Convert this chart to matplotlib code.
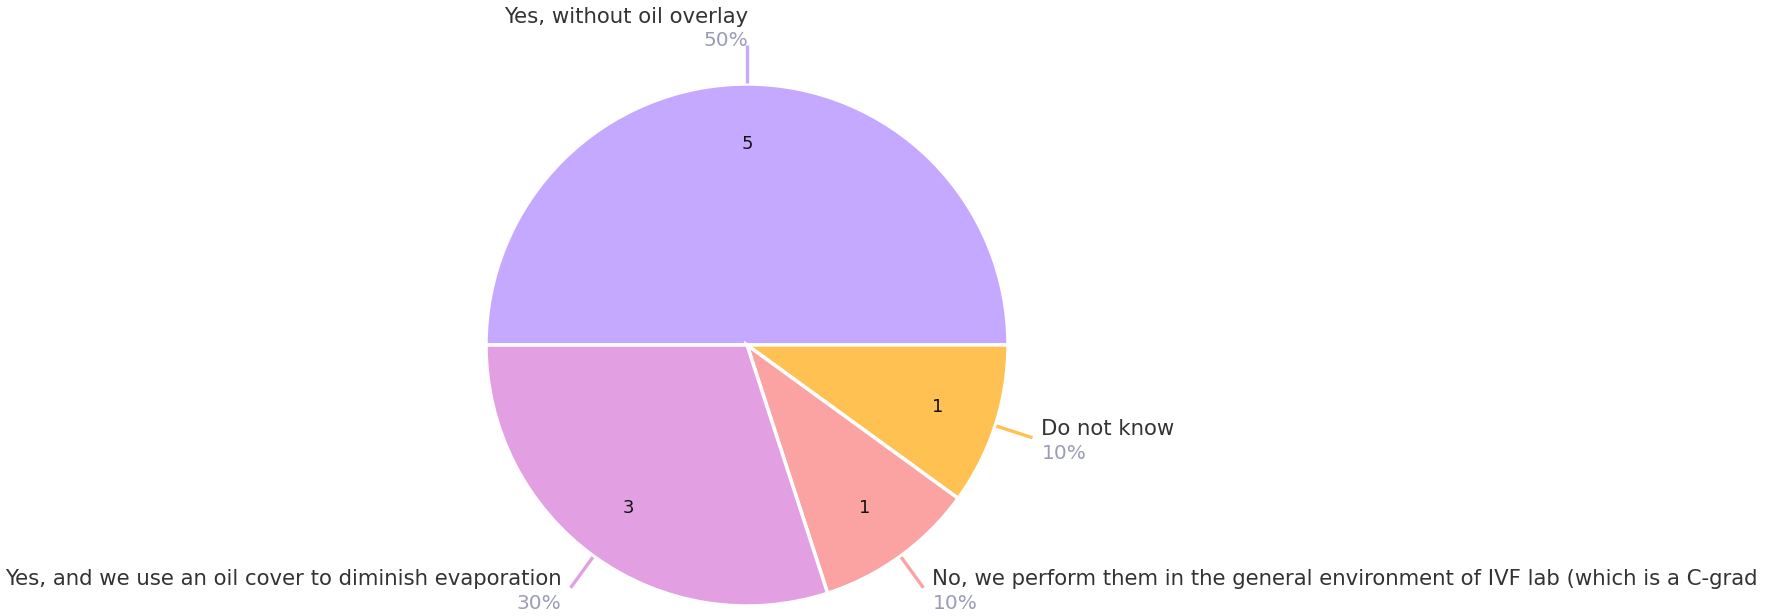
import numpy as np
import matplotlib
matplotlib.use("Agg")
import matplotlib.pyplot as plt

categories = ["Yes, without oil overlay", "Do not know",
              "No, we perform them in the general environment of IVF lab (which is a C-grad",
              "Yes, and we use an oil cover to diminish evaporation"]
counts = [5, 1, 1, 3]
colors = ["#C5A8FF", "#FFC152", "#FBA3A3", "#E2A0E2"]

W, H = 1774, 616
fig = plt.figure(figsize=(W / 100, H / 100), dpi=100)
ax = fig.add_axes([0, 0, 1, 1])

cx, cy, R = 747, H - 345, 261
total = sum(counts)
wedges, texts = ax.pie(counts, colors=colors, startangle=180, counterclock=False,
                       center=(cx, cy), radius=R, labels=[str(c) for c in counts],
                       labeldistance=0.77,
                       textprops=dict(fontsize=13, color="#111111", ha="center", va="center"),
                       wedgeprops=dict(edgecolor="white", linewidth=2.5))
ax.set_xlim(0, W)
ax.set_ylim(0, H)
ax.set_aspect("equal")
ax.axis("off")

fs = 15.3
name_col = "#333333"
pct_col = "#9C9CB8"
for w, cat, c, col in zip(wedges, categories, counts, colors):
    mid = np.deg2rad((w.theta1 + w.theta2) / 2)
    x0, y0 = cx + R * 1.005 * np.cos(mid), cy + R * 1.005 * np.sin(mid)
    x1, y1 = cx + R * 1.15 * np.cos(mid), cy + R * 1.15 * np.sin(mid)
    ax.plot([x0, x1], [y0, y1], color=col, lw=2.4, solid_capstyle="butt")
    pct = f"{100 * c / total:.0f}%"
    if np.sin(mid) > 0.9:
        ha = "right"; tx = x1 + 1
        ny, py = y1 + 28, y1 + 4
    else:
        ha = "left" if np.cos(mid) > 0 else "right"
        tx = x1 + (9 if ha == "left" else -9)
        ny, py = y1 + 9, y1 - 16
    ax.text(tx, ny, cat, ha=ha, va="center", fontsize=fs, color=name_col)
    ax.text(tx, py, pct, ha=ha, va="center", fontsize=fs - 0.8, color=pct_col)

fig.savefig("out.png", dpi=100)
